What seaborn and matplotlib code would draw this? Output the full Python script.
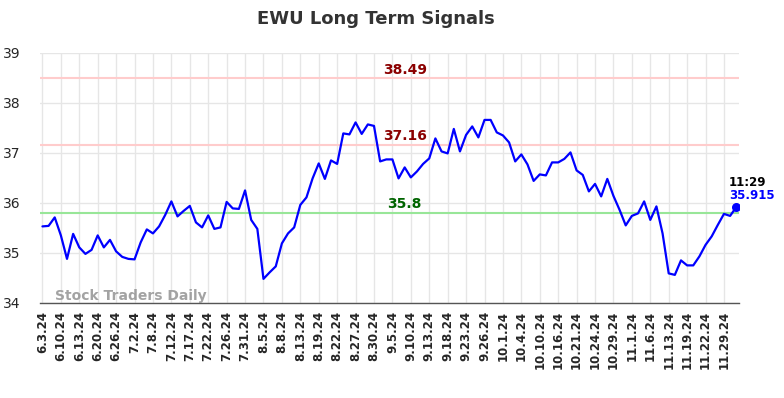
import numpy as np
import pandas as pd
import matplotlib
matplotlib.use("Agg")
import matplotlib.pyplot as plt
import seaborn as sns

# closing prices (one every trading session shown)
prices = [35.53, 35.54, 35.71, 35.35, 34.88, 35.38, 35.11, 34.98, 35.06, 35.35,
          35.11, 35.26, 35.03, 34.92, 34.88, 34.87, 35.21, 35.47, 35.39, 35.53,
          35.76, 36.03, 35.73, 35.84, 35.94, 35.61, 35.51, 35.75, 35.48, 35.51,
          36.02, 35.89, 35.88, 36.25, 35.66, 35.48, 34.48, 34.61, 34.73, 35.19,
          35.39, 35.51, 35.96, 36.11, 36.49, 36.79, 36.48, 36.85, 36.78, 37.39,
          37.37, 37.61, 37.38, 37.57, 37.54, 36.83, 36.87, 36.87, 36.49, 36.71,
          36.51, 36.63, 36.78, 36.89, 37.29, 37.03, 36.99, 37.48, 37.03, 37.36,
          37.53, 37.31, 37.66, 37.66, 37.41, 37.35, 37.21, 36.83, 36.97, 36.77,
          36.44, 36.57, 36.55, 36.81, 36.81, 36.88, 37.01, 36.65, 36.56, 36.23,
          36.38, 36.13, 36.48, 36.14, 35.86, 35.55, 35.74, 35.79, 36.03, 35.66,
          35.93, 35.39, 34.59, 34.56, 34.85, 34.75, 34.75, 34.93, 35.16, 35.33,
          35.56, 35.78, 35.74, 35.915]

# every third session gets a date label
tick_labels = ["6.3.24", "6.10.24", "6.13.24", "6.20.24", "6.26.24", "7.2.24",
               "7.8.24", "7.12.24", "7.17.24", "7.22.24", "7.26.24", "7.31.24",
               "8.5.24", "8.8.24", "8.13.24", "8.19.24", "8.22.24", "8.27.24",
               "8.30.24", "9.5.24", "9.10.24", "9.13.24", "9.18.24", "9.23.24",
               "9.26.24", "10.1.24", "10.4.24", "10.10.24", "10.16.24", "10.21.24",
               "10.24.24", "10.29.24", "11.1.24", "11.6.24", "11.13.24", "11.19.24",
               "11.22.24", "11.29.24"]

resistance = [38.49, 37.16]
support = [35.8]
last_time = "11:29"

df = pd.DataFrame({"idx": np.arange(len(prices)), "price": prices})

sns.set_style("white")
fig = plt.figure(figsize=(7.84, 3.98), dpi=100)
ax = fig.add_axes([0.051, 0.239, 0.892, 0.628])

# grid
tick_pos = np.arange(0, len(prices), 3)[:len(tick_labels)]
for x in tick_pos:
    ax.axvline(x, color="#e6e6e6", lw=1, zorder=0)
for y in range(34, 40):
    ax.axhline(y, color="#e6e6e6", lw=1, zorder=0)

# signal levels
for lvl in resistance:
    ax.axhline(lvl, color="#ffcccc", lw=1.5, zorder=1)
    ax.text(59, lvl + 0.03, f"{lvl:g}", color="#8b0000", fontsize=10,
            fontweight="bold", ha="center", va="bottom")
for lvl in support:
    ax.axhline(lvl, color="#98e698", lw=1.5, zorder=1)
    ax.text(59, lvl + 0.03, f"{lvl:g}", color="#006400", fontsize=10,
            fontweight="bold", ha="center", va="bottom")

sns.lineplot(data=df, x="idx", y="price", color="#0000ff", lw=1.6, ax=ax, zorder=3)

last_i = len(prices) - 1
ax.scatter([last_i], [prices[-1]], color="#0000ff", s=30, zorder=4)
ax.text(last_i - 1.2, prices[-1] + 0.37, last_time, color="black", fontsize=8.5,
        fontweight="bold", ha="left", va="bottom")
ax.text(last_i - 1.2, prices[-1] + 0.1, f"{prices[-1]:g}", color="#0000ff", fontsize=8.5,
        fontweight="bold", ha="left", va="bottom")

ax.text(2, 34.0, "Stock Traders Daily", color="#999999", fontsize=10,
        fontweight="bold", ha="left", va="bottom", alpha=0.9, zorder=5)

ax.set_xlim(-0.4, last_i + 0.5)
ax.set_ylim(34, 39)
ax.set_yticks(range(34, 40))
ax.set_xticks(tick_pos)
ax.set_xticklabels(tick_labels, rotation=90, fontsize=8.5, fontweight="bold")
ax.tick_params(axis="y", labelsize=10, length=0, pad=14)
ax.tick_params(axis="x", length=0, pad=6)
ax.set_xlabel("")
ax.set_ylabel("")

for s in ["top", "right", "left"]:
    ax.spines[s].set_visible(False)
ax.spines["bottom"].set_color("#555555")
ax.spines["bottom"].set_linewidth(1)

fig.suptitle("EWU Long Term Signals", x=0.48, y=0.975, fontsize=13,
             fontweight="bold", color="#333333")

fig.savefig("out.png", dpi=100)
